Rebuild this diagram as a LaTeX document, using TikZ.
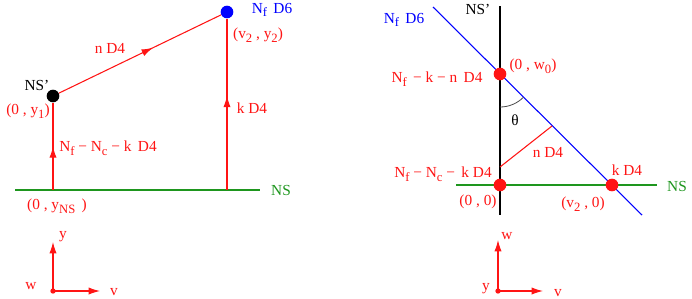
\documentclass[tikz,border=0pt]{standalone}
\usepackage{fontspec}
\setmainfont{Liberation Serif}
\usetikzlibrary{arrows.meta, decorations.markings}

\definecolor{figred}{RGB}{255,20,20}
\definecolor{figgreen}{RGB}{30,150,30}
\definecolor{figblue}{RGB}{0,0,255}
\newcommand{\lowsub}[1]{\raisebox{-0.5ex}{\fontsize{9.5}{10}\selectfont #1}}

\begin{document}
\begin{tikzpicture}[
x=0.75pt, y=-0.75pt,
font=\fontsize{11.5}{13}\selectfont,
dot/.style={circle, inner sep=0pt, minimum size=9.5pt},
smalldot/.style={circle, fill=figred, inner sep=0pt, minimum size=4pt},
redtxt/.style={text=figred, inner sep=1pt},
brane/.style={figred, line width=0.8pt},
arrow/.style={-{Latex[length=3mm, width=1.9mm]}, figred, line width=0.8pt},
midarrow/.style={postaction={decorate}, decoration={markings,
  mark=at position #1 with {\arrow{Latex[length=3mm, width=1.9mm]}}}}
]
\useasboundingbox (0,0) rectangle (692,298);

% left panel: (v,y) plane
\coordinate (nsA) at (15,190);
\coordinate (nsB) at (260,190);
\coordinate (footL) at (53,190);
\coordinate (footR) at (227,190);
\draw[figgreen, line width=0.8pt] (nsA) -- (nsB);
\node[text=figgreen] (nslabel) at (281,190) {NS};

\node[dot, fill=black] (nsp) at (53,96) {};
\node[dot, fill=figblue] (d6) at (227,12) {};

\draw[brane, midarrow=0.5] (footL) -- (nsp);
\draw[brane, midarrow=0.58] (nsp) -- (d6);
\draw[brane, midarrow=0.55] (footR) -- (d6);

\node (nsplabel) at (37,85) {NS'};
\node[redtxt] (y1) at (28,111) {(0 , y\lowsub{1})};
\node[text=figblue] (d6label) at (272,10) {N\lowsub{f}\, D6};
\node[redtxt] (y2) at (258,35) {(v\lowsub{2} , y\lowsub{2})};
\node[redtxt] (nd4) at (110,48) {n D4};
\node[redtxt] (kd4) at (252,108) {k D4};
\node[redtxt] (nfnc) at (108,148) {N\lowsub{f} − N\lowsub{c} − k\, D4};
\node[redtxt] (yns) at (57,206) {(0 , y\lowsub{NS}\, )};

% left axes
\node[smalldot] (oL) at (53,291) {};
\coordinate (yL) at (53,242);
\coordinate (vL) at (100,291);
\draw[arrow] (oL.center) -- (yL);
\draw[arrow] (oL.center) -- (vL);
\node[redtxt] (ylab) at (63,237) {y};
\node[redtxt] (vlab) at (114,292) {v};
\node[redtxt] (wlab) at (31,286) {w};

% right panel: (v,w) plane
\coordinate (nspT) at (500,6);
\coordinate (nspB) at (500,215);
\coordinate (d6T) at (433,7);
\coordinate (d6B) at (642,215);
\coordinate (nsC) at (456,185);
\coordinate (nsD) at (657,185);
\draw[line width=0.8pt] (nspT) -- (nspB);
\draw[figblue, line width=0.8pt] (d6T) -- (d6B);
\draw[figgreen, line width=0.8pt] (nsC) -- (nsD);

\node[dot, fill=figred] (w0) at (500,74) {};
\node[dot, fill=figred] (orig) at (500,185) {};
\node[dot, fill=figred] (v2) at (612,185) {};

\coordinate (ndA) at (500,167);
\coordinate (ndB) at (552,126);
\draw[brane] (ndA) -- (ndB);
\draw[black!70, line width=0.6pt] (w0.center) ++(90:33) arc[start angle=90, end angle=45, radius=33];

\node (nsplabelR) at (478,9) {NS'};
\node[text=figblue] (d6labelR) at (404,20) {N\lowsub{f}\, D6};
\node[redtxt] (w0label) at (533,66) {(0 , w\lowsub{0})};
\node[redtxt] (nfkn) at (437,79) {N\lowsub{f}\, − k − n\, D4};
\node (theta) at (515,120) {θ};
\node[redtxt] (nd4R) at (548,152) {n D4};
\node[redtxt] (nfncR) at (443,174) {N\lowsub{f} − N\lowsub{c} −\, k D4};
\node[redtxt] (kd4R) at (627,170) {k D4};
\node[text=figgreen] (nslabelR) at (677,186) {NS};
\node[redtxt] (o0) at (478,202) {(0 , 0)};
\node[redtxt] (v20) at (583,204) {(v\lowsub{2} , 0)};

% right axes
\node[smalldot] (oR) at (498,291) {};
\coordinate (wR) at (498,240);
\coordinate (vR) at (543,291);
\draw[arrow] (oR.center) -- (wR);
\draw[arrow] (oR.center) -- (vR);
\node[redtxt] (wlabR) at (507,236) {w};
\node[redtxt] (vlabR) at (558,293) {v};
\node[redtxt] (ylabR) at (486,289) {y};
\end{tikzpicture}
\end{document}
